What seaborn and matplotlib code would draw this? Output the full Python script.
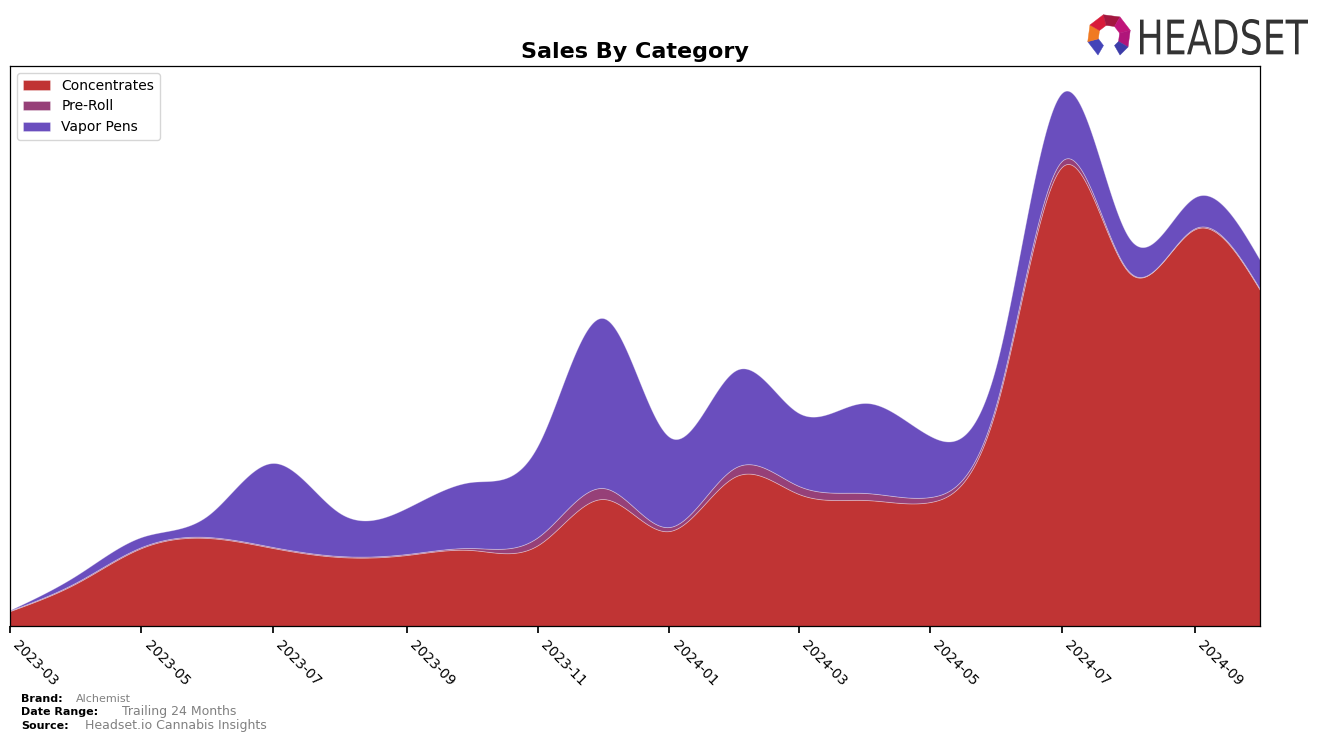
import numpy as np
import pandas as pd
import seaborn as sns
import matplotlib
matplotlib.use("Agg")
import matplotlib.pyplot as plt
import matplotlib.dates as mdates
from matplotlib.patches import Polygon, PathPatch
from matplotlib.textpath import TextPath
from matplotlib.font_manager import FontProperties
from matplotlib.transforms import Affine2D

months = pd.date_range("2023-03-01", "2024-10-01", freq="MS")
concentrates = [15, 43, 78, 88, 78, 69, 71, 76, 81, 127, 95, 150, 132, 126, 124, 221, 459, 354, 397, 336]
pre_roll = [0.5, 1, 1, 1, 1, 1, 1, 2, 8, 11, 4, 9, 8, 7, 5, 4, 6, 1, 1, 1]
vapor_pens = [0.5, 7, 10, 22, 84, 43, 46, 66, 92, 170, 90, 97, 73, 90, 61, 39, 68, 34, 31, 29]

categories = ["Concentrates", "Pre-Roll", "Vapor Pens"]
colors = ["#C03434", "#964078", "#6A4EBE"]

W, H = 1324, 742


def natural_spline(x, y, xs):
    x = np.asarray(x, float)
    y = np.asarray(y, float)
    n = len(x)
    h = np.diff(x)
    A = np.zeros((n, n))
    b = np.zeros(n)
    A[0, 0] = A[-1, -1] = 1
    for i in range(1, n - 1):
        A[i, i - 1] = h[i - 1]
        A[i, i] = 2 * (h[i - 1] + h[i])
        A[i, i + 1] = h[i]
        b[i] = 3 * ((y[i + 1] - y[i]) / h[i] - (y[i] - y[i - 1]) / h[i - 1])
    c = np.linalg.solve(A, b)
    idx = np.clip(np.searchsorted(x, xs) - 1, 0, n - 2)
    dx = xs - x[idx]
    bb = (y[idx + 1] - y[idx]) / h[idx] - h[idx] * (2 * c[idx] + c[idx + 1]) / 3
    d = (c[idx + 1] - c[idx]) / (3 * h[idx])
    return y[idx] + bb * dx + c[idx] * dx ** 2 + d * dx ** 3


sns.set_theme(style="ticks", rc={"text.color": "black", "xtick.color": "black",
                                 "axes.labelcolor": "black", "axes.edgecolor": "black"})
plt.rcParams['font.family'] = ['DejaVu Sans']

fig = plt.figure(figsize=(W / 100, H / 100), dpi=100)
ax = fig.add_axes([10 / W, 1 - 626 / H, 1250 / W, 560 / H])

xnum = mdates.date2num(months)
xs = np.linspace(xnum[0], xnum[-1], 800)
smooth = [np.clip(natural_spline(xnum, s, xs), 0, None) for s in (concentrates, pre_roll, vapor_pens)]

ax.stackplot(mdates.num2date(xs), *smooth, labels=categories, colors=colors,
             edgecolor="#ffffff55", linewidth=0.6)

ax.set_xlim(months[0], months[-1])
ax.set_ylim(0, 560)
ax.set_yticks([])
ax.xaxis.set_major_locator(mdates.MonthLocator(bymonth=[1, 3, 5, 7, 9, 11]))
ax.xaxis.set_major_formatter(mdates.DateFormatter("%Y-%m"))
plt.setp(ax.get_xticklabels(), rotation=-45, ha="left", fontsize=10)
ax.tick_params(axis="x", length=5, color="black")
for sp in ax.spines.values():
    sp.set_linewidth(0.9)

ax.set_title("Sales By Category", fontsize=16, fontweight="bold", pad=6)
ax.legend(loc="upper left", fontsize=10, frameon=True, edgecolor="#cccccc", fancybox=True)

# footer
fig.text(0.016, 0.054, "Brand:", fontsize=8, fontweight="bold")
fig.text(0.057, 0.054, "Alchemist", fontsize=8, color="gray")
fig.text(0.016, 0.036, "Date Range:", fontsize=8, fontweight="bold")
fig.text(0.092, 0.036, "Trailing 24 Months", fontsize=9, color="gray")
fig.text(0.016, 0.018, "Source:", fontsize=8, fontweight="bold")
fig.text(0.064, 0.018, "Headset.io Cannabis Insights", fontsize=9, color="gray")

# logo word, fitted to the pixel box of the reference
tp = TextPath((0, 0), "HEADSET", size=100, prop=FontProperties(family="DejaVu Sans"))
ext = tp.get_extents()
sx = 168 / ext.width
sy = 36 / ext.height
tr = Affine2D().translate(-ext.x0, -ext.y0).scale(sx / W, sy / H).translate(1140 / W, 1 - 55 / H)
fig.patches.append(PathPatch(tr.transform_path(tp), transform=fig.transFigure,
                             facecolor="#333333", edgecolor="none"))

# logo mark: open ring of coloured segments
cx, cy, ro, ri = 1109, 36, 22, 11
seg_angles = [(240, 195), (195, 150), (150, 105), (105, 60), (60, 15), (15, -30), (-30, -60)]
seg_colors = ["#4444B8", "#F07A22", "#D81B3A", "#A3173F", "#C0157A", "#B0157A", "#3C3CA8"]
for (a0, a1), col in zip(seg_angles, seg_colors):
    a0r, a1r = np.deg2rad(a0), np.deg2rad(a1)
    pts = [(cx + ro * np.cos(a0r), cy - ro * np.sin(a0r)),
           (cx + ro * np.cos(a1r), cy - ro * np.sin(a1r)),
           (cx + ri * np.cos(a1r), cy - ri * np.sin(a1r)),
           (cx + ri * np.cos(a0r), cy - ri * np.sin(a0r))]
    pts = [(px / W, 1 - py / H) for px, py in pts]
    fig.patches.append(Polygon(pts, closed=True, transform=fig.transFigure,
                               facecolor=col, edgecolor=col, linewidth=0.3))

fig.savefig("out.png", dpi=100)
